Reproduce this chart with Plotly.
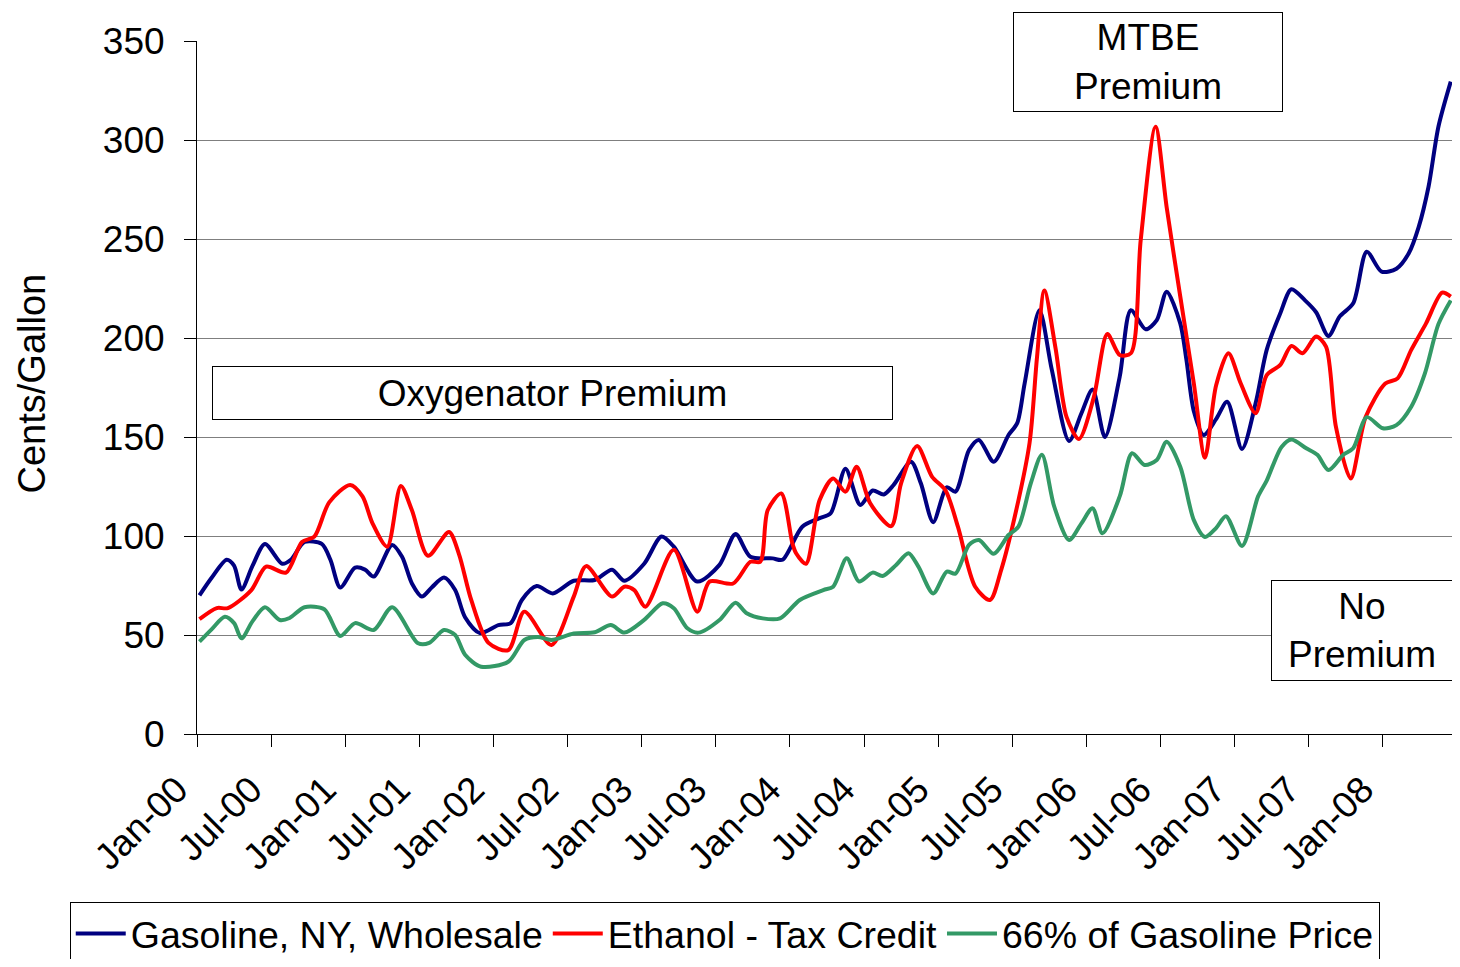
import plotly.graph_objects as go

# ---- data (x = months since Jan-2000) ----
gas_month = [0.2, 1.2, 2.4, 3.0, 3.6, 4.5, 5.5, 6.9, 7.6, 8.7, 10.1, 10.8, 11.6, 12.8, 13.6, 14.3,
             15.8, 16.6, 17.4, 18.2, 19.0, 20.0, 20.9, 21.7, 22.9, 24.4, 25.4, 26.3, 27.5, 28.8,
             30.5, 32.2, 33.6, 34.6, 36.2, 37.6, 38.6, 40.5, 42.3, 43.6, 44.8, 46.6, 47.4, 49.0,
             50.4, 51.3, 52.5, 53.7, 54.7, 55.6, 56.4, 57.8, 58.6, 59.6, 60.7, 61.4, 62.5, 63.3,
             64.5, 65.7, 66.4, 67.0, 68.2, 69.2, 70.6, 71.6, 72.5, 73.5, 74.7, 75.6, 76.8, 77.7,
             78.5, 79.6, 80.1, 80.7, 81.5, 82.5, 83.4, 84.6, 85.7, 86.6, 87.7, 88.6, 89.7, 90.6,
             91.6, 92.5, 93.6, 94.7, 95.9, 97.1, 98.1, 98.9, 99.7, 100.5, 101.5]
gas_value = [70, 79, 88, 85, 73, 85, 96, 86, 88, 97, 96, 88, 74, 84, 83, 79.5,
             95.5, 89.5, 76, 69.4, 74, 79, 72.7, 59, 51, 55, 56, 67.7, 74.7, 71,
             77.4, 77.8, 83, 77.4, 86, 99.7, 94.6, 77, 85.4, 101, 89.5, 88.7, 88, 104.7,
             109, 111.5, 134, 115.7, 123, 121, 125.8, 137.5, 126.6, 107, 124.6, 122.4, 143.4, 148.5,
             137.5, 151, 157, 177, 214, 184, 148, 162, 174, 150, 180.5, 214, 204.4, 209,
             223.4, 207.4, 189, 163, 151, 159, 167.8, 144, 167, 194, 212.5, 224.6, 219, 213,
             201, 210.8, 217.5, 243.6, 233.5, 235, 242.8, 256, 276.4, 306.7, 329.5]

eth_month = [0.2, 1.6, 2.5, 4.4, 5.6, 7.2, 8.5, 9.5, 10.7, 12.4, 13.4, 14.2, 15.4, 16.5, 17.4,
             18.7, 20.4, 21.2, 22.2, 23.6, 25.2, 26.5, 28.7, 30.5, 31.5, 33.6, 34.6, 35.4, 36.3,
             38.6, 40.5, 41.5, 43.4, 44.8, 45.6, 46.2, 47.3, 48.2, 48.5, 49.3, 50.4, 51.5, 52.5,
             53.4, 54.5, 56.2, 57.0, 58.3, 59.5, 60.6, 61.6, 63.0, 64.2, 65.1, 66.2, 67.4, 68.0,
             68.6, 69.5, 70.4, 71.4, 72.6, 73.7, 74.7, 75.6, 76.4, 77.6, 78.5, 79.6, 80.7, 81.6,
             82.5, 83.5, 84.5, 85.7, 86.6, 87.7, 88.6, 89.5, 90.6, 91.4, 92.2, 93.4, 94.6, 96.2,
             97.2, 98.3, 99.5, 100.8, 101.5]
eth_value = [58, 63.6, 63.6, 72.7, 84.5, 81.5, 97, 99.7, 117, 125.8, 120, 106.5, 94.6, 125.3, 113,
             90, 102, 91, 67.7, 46, 42.4, 61.8, 45, 69.4, 84.8, 69.4, 74.4, 72.7, 64.3,
             93, 61.8, 77, 76, 87, 87, 113, 121.5, 96.3, 91.3, 86, 118, 129, 122.4,
             135, 116.5, 105, 126.6, 145.5, 130, 123, 104.7, 74.4, 67.7, 82.8, 109.7, 147, 190,
             224, 195, 160, 149, 170, 202, 191.4, 192.3, 249.5, 306.7, 266, 221, 177, 139.5,
             176, 192.3, 177, 162, 181.3, 186.4, 196, 192.3, 200.7, 195.6, 155.2, 129, 160, 177,
             179.6, 194, 207.4, 222.9, 220.9]

pct_month = [0.2, 1.2, 2.25, 3.0, 3.6, 4.5, 5.5, 6.7, 7.5, 8.7, 10.3, 11.6, 12.8, 14.3, 15.8,
             17.9, 18.8, 20.0, 20.9, 21.7, 23.0, 25.2, 26.5, 27.6, 28.7, 30.5, 32.2, 33.5, 34.6,
             36.2, 37.7, 38.6, 39.7, 40.6, 42.3, 43.6, 44.5, 45.8, 47.2, 48.8, 50.7, 51.5, 52.6,
             53.6, 54.7, 55.5, 56.6, 57.6, 58.4, 59.6, 60.7, 61.4, 62.5, 63.3, 64.5, 65.7, 66.5,
             67.5, 68.4, 69.4, 70.6, 71.6, 72.5, 73.3, 74.7, 75.7, 76.7, 77.7, 78.5, 79.6, 80.7,
             81.6, 82.5, 83.3, 84.6, 85.9, 86.6, 87.8, 88.6, 89.8, 90.7, 91.6, 92.8, 93.6, 94.7,
             96.0, 97.1, 98.3, 99.4, 100.5, 101.5]
pct_value = [46.6, 53, 59.2, 56, 48.3, 57, 64, 57.6, 58.6, 64, 63, 49.5, 56, 52.5, 64,
             45.8, 46, 52.5, 50, 40, 34, 36.5, 47.5, 49, 47.5, 50.8, 51.4, 55, 51.2,
             57.6, 66, 63.5, 53.4, 51.2, 57.6, 66.3, 61, 58.4, 58.4, 67.7, 72.7, 74.4, 88.7,
             77, 81.5, 79.8, 85.4, 91.3, 84.5, 71, 82, 81, 95.5, 98, 91, 100.5, 104.7,
             126.6, 141, 114.8, 98, 106.4, 114, 101.4, 120, 141.8, 135.9, 138.4, 147.6, 135, 108,
             99.5, 104, 110, 95, 120, 128, 145, 148.8, 144.3, 141, 133.3, 141, 144.3, 160,
             154.4, 156, 165.3, 182, 207, 219]

tick_months = [0, 6, 12, 18, 24, 30, 36, 42, 48, 54, 60, 66, 72, 78, 84, 90, 96]
tick_labels = ["Jan-00", "Jul-00", "Jan-01", "Jul-01", "Jan-02", "Jul-02", "Jan-03", "Jul-03",
               "Jan-04", "Jul-04", "Jan-05", "Jul-05", "Jan-06", "Jul-06", "Jan-07", "Jul-07", "Jan-08"]
y_ticks = [0, 50, 100, 150, 200, 250, 300, 350]

FONT = "Liberation Sans, Arial, sans-serif"

fig = go.Figure()
series = [
    ("Gasoline, NY, Wholesale", gas_month, gas_value, "#000080"),
    ("Ethanol - Tax Credit", eth_month, eth_value, "#FF0000"),
    ("66% of Gasoline Price", pct_month, pct_value, "#339966"),
]
for name, xs, ys, col in series:
    fig.add_trace(go.Scatter(x=xs, y=ys, name=name, mode="lines",
                             line=dict(color=col, width=4, shape="spline", smoothing=0.8)))

# the page body adds an 8px margin on every side; figure size and margins compensate
fig.update_layout(
    width=1444, height=951,
    paper_bgcolor="white", plot_bgcolor="white",
    margin=dict(l=189, r=0, t=33, b=225, autoexpand=False),
    font=dict(family=FONT, size=37, color="black"),
    showlegend=True,
    legend=dict(orientation="h", x=-0.1014, y=-0.242, xanchor="left", yanchor="top",
                bordercolor="black", borderwidth=1, bgcolor="white",
                font=dict(size=37.5, family=FONT), itemwidth=50, tracegroupgap=0),
)
fig.update_xaxes(range=[0, 101.6], tickmode="array", tickvals=tick_months, ticktext=tick_labels,
                 tickangle=-45, ticks="outside", ticklen=12, tickcolor="black",
                 showline=True, linecolor="black", linewidth=1, showgrid=False, zeroline=False,
                 tickfont=dict(size=37, family=FONT), ticklabelshift=-20, ticklabelstandoff=6)
fig.update_yaxes(range=[0, 350], tickmode="array", tickvals=y_ticks,
                 ticks="outside", ticklen=12, tickcolor="black",
                 showline=True, linecolor="black", linewidth=1,
                 showgrid=True, gridcolor="#7f7f7f", gridwidth=1, zeroline=False,
                 tickfont=dict(size=37, family=FONT), ticklabelstandoff=12)

box = dict(xref="paper", yref="paper", showarrow=False, bgcolor="white",
           bordercolor="black", borderwidth=1, borderpad=0,
           font=dict(size=37, family=FONT, color="black"), align="center")
fig.add_annotation(text="Oxygenator Premium", x=0.2834, y=0.492, xanchor="center", yanchor="middle",
                   width=679, height=52, **box)
fig.add_annotation(text="MTBE<br>Premium", x=0.7578, y=0.9697, xanchor="center", yanchor="middle",
                   width=268, height=98, **box)
fig.add_annotation(text="No<br>Premium", x=0.9282, y=0.1494, xanchor="center", yanchor="middle",
                   width=180, height=99, **box)
fig.add_annotation(text="Cents/Gallon", xref="paper", yref="paper", x=-0.1307, y=0.5058,
                   xanchor="center", yanchor="middle", textangle=-90, showarrow=False,
                   font=dict(size=38, family=FONT, color="black"))

fig.write_html("out.html")
